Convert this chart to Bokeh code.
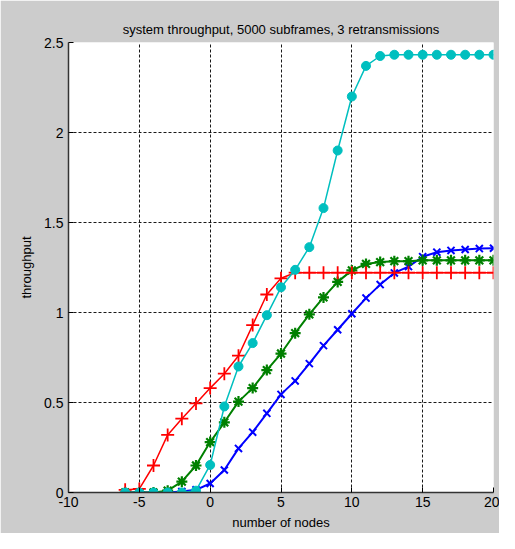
from bokeh.plotting import figure
from bokeh.embed import file_html
from bokeh.resources import INLINE
from bokeh.models import FixedTicker

# ---- data ----
nodes = list(range(-6, 21))

blue_x = [0, 0, 0, 0, 0.005, 0.015, 0.05, 0.125, 0.245, 0.335, 0.44, 0.545, 0.62,
          0.716, 0.816, 0.904, 0.993, 1.08, 1.155, 1.22, 1.255, 1.31, 1.335, 1.345,
          1.35, 1.355, 1.357]
green_star = [0, 0, 0, 0.01, 0.06, 0.15, 0.28, 0.39, 0.505, 0.58, 0.68, 0.772, 0.885,
              0.99, 1.084, 1.17, 1.234, 1.27, 1.28, 1.285, 1.285, 1.29, 1.29, 1.29,
              1.29, 1.29, 1.29]
red_plus = [0.015, 0.02, 0.15, 0.32, 0.41, 0.495, 0.58, 0.66, 0.76, 0.93, 1.10, 1.19, 1.221,
            1.221, 1.221, 1.221, 1.221, 1.221, 1.221, 1.221, 1.221, 1.221, 1.221, 1.221,
            1.221, 1.221, 1.221]
cyan_dot = [0, 0, 0, 0, 0, 0.01, 0.153, 0.478, 0.70, 0.83, 0.985, 1.14, 1.237, 1.363,
            1.58, 1.90, 2.20, 2.37, 2.425, 2.432, 2.432, 2.432, 2.432, 2.432, 2.432,
            2.432, 2.432]

x_ticks = [-10, -5, 0, 5, 10, 15, 20]
x_tick_labels = ["-10", "-5", "0", "5", "10", "15", "20"]
y_ticks = [0, 0.5, 1, 1.5, 2, 2.5]
y_tick_labels = ["0", "0.5", "1", "1.5", "2", "2.5"]

title_text = "system throughput, 5000 subframes, 3 retransmissions"
x_label = "number of nodes"
y_label = "throughput"

FONT = "Liberation Sans"
GRAY = "#cccccc"

p = figure(width=499, height=533, output_backend="svg", toolbar_location=None,
           x_range=(-10, 20), y_range=(0, 2.5),
           min_border_left=68, min_border_right=6, min_border_top=42, min_border_bottom=41,
           title=title_text)
p.border_fill_color = GRAY
p.background_fill_color = "white"
p.outline_line_color = None

p.title.align = "center"
p.title.text_font = FONT
p.title.text_font_size = "13px"
p.title.text_font_style = "normal"
p.title.text_color = "black"
p.title.standoff = 12

for ax in (p.xaxis[0], p.yaxis[0]):
    ax.axis_line_color = "#333333"
    ax.axis_line_width = 1.5
    ax.major_tick_in = 5
    ax.major_tick_out = 0
    ax.major_tick_line_color = "black"
    ax.minor_tick_line_color = None
    ax.major_label_text_font = FONT
    ax.major_label_text_font_size = "14px"
    ax.major_label_text_color = "black"
    ax.axis_label_text_font = FONT
    ax.axis_label_text_font_size = "13px"
    ax.axis_label_text_font_style = "normal"
    ax.axis_label_text_color = "black"

p.xaxis.ticker = FixedTicker(ticks=x_ticks)
p.yaxis.ticker = FixedTicker(ticks=y_ticks)
p.xaxis.major_label_overrides = dict(zip(x_ticks, x_tick_labels))
p.yaxis.major_label_overrides = dict(zip(y_ticks, y_tick_labels))
p.xaxis.axis_label = x_label
p.yaxis.axis_label = y_label
p.xaxis.major_label_standoff = 4
p.yaxis.major_label_standoff = 5
p.xaxis.axis_label_standoff = 5
p.yaxis.axis_label_standoff = 7

for g in (p.xgrid[0], p.ygrid[0]):
    g.grid_line_color = "black"
    g.grid_line_dash = "3 2"
    g.grid_line_width = 1
    g.grid_line_alpha = 0.9

# blue x
p.line(nodes, blue_x, line_color="#0000ff", line_width=2)
p.scatter(nodes, blue_x, marker="x", size=10, line_color="#0000ff", line_width=2)
# green star
p.line(nodes, green_star, line_color="#008000", line_width=2)
p.scatter(nodes, green_star, marker="asterisk", size=11, line_color="#008000", line_width=2.2)
# red plus
p.line(nodes, red_plus, line_color="#ff0000", line_width=1.5)
p.scatter(nodes, red_plus, marker="cross", size=13, line_color="#ff0000", line_width=1.8)
# cyan dots
p.line(nodes, cyan_dot, line_color="#00bfbf", line_width=1.5)
p.scatter(nodes, cyan_dot, marker="circle", size=9, fill_color="#00bfbf", line_color="#00bfbf")

open("out.html", "w").write(file_html(p, INLINE))
